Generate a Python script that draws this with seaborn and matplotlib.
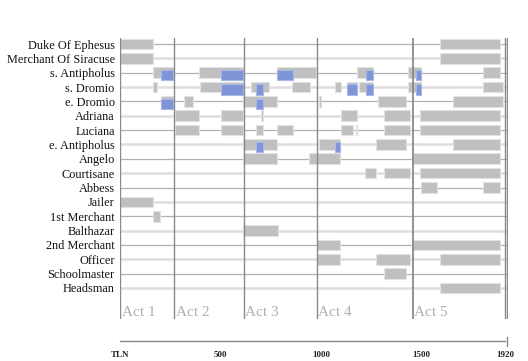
import matplotlib
matplotlib.use("Agg")
import matplotlib.pyplot as plt
from matplotlib.lines import Line2D
import seaborn as sns
import pandas as pd

# ---------------- data ----------------
characters = ["Duke Of Ephesus", "Merchant Of Siracuse", "s. Antipholus", "s. Dromio",
              "e. Dromio", "Adriana", "Luciana", "e. Antipholus", "Angelo", "Courtisane",
              "Abbess", "Jailer", "1st Merchant", "Balthazar", "2nd Merchant", "Officer",
              "Schoolmaster", "Headsman"]

act_labels = ["Act 1", "Act 2", "Act 3", "Act 4", "Act 5"]
act_starts = [0, 270, 615, 980, 1458]
play_end = 1920

tick_values = [0, 500, 1000, 1500, 1920]
tick_labels = ["TLN", "500", "1000", "1500", "1920"]

# on-stage spans (TLN start, end)
stage_duke = [(0, 163), (1595, 1894)]
stage_merchant = [(0, 163), (1595, 1894)]
stage_s_antipholus = [(162, 269), (393, 613), (783, 976), (1179, 1262), (1433, 1500), (1807, 1894)]
stage_s_dromio = [(162, 182), (397, 612), (650, 740), (858, 946), (1071, 1101), (1132, 1182),
                  (1192, 1262), (1433, 1500), (1807, 1909)]
stage_e_dromio = [(203, 261), (318, 361), (613, 783), (991, 1003), (1285, 1423), (1659, 1909)]
stage_adriana = [(273, 393), (502, 612), (702, 710), (1101, 1179), (1317, 1445), (1495, 1894)]
stage_luciana = [(273, 393), (502, 612), (677, 710), (783, 860), (1101, 1159), (1174, 1181),
                 (1317, 1445), (1495, 1894)]
stage_e_antipholus = [(613, 783), (991, 1096), (1275, 1423), (1659, 1894)]
stage_angelo = [(613, 783), (941, 1096), (1458, 1894)]
stage_courtisane = [(1222, 1277), (1317, 1445), (1495, 1894)]
stage_abbess = [(1500, 1578), (1807, 1894)]
stage_jailer = [(0, 163)]
stage_1st_merchant = [(162, 197)]
stage_balthazar = [(613, 785)]
stage_2nd_merchant = [(980, 1096), (1458, 1894)]
stage_officer = [(980, 1096), (1275, 1445), (1595, 1894)]
stage_schoolmaster = [(1317, 1423)]
stage_headsman = [(1595, 1894)]

stage_spans = [stage_duke, stage_merchant, stage_s_antipholus, stage_s_dromio, stage_e_dromio,
               stage_adriana, stage_luciana, stage_e_antipholus, stage_angelo, stage_courtisane,
               stage_abbess, stage_jailer, stage_1st_merchant, stage_balthazar,
               stage_2nd_merchant, stage_officer, stage_schoolmaster, stage_headsman]

# highlighted (blue) spans
blue_s_antipholus = [(203, 261), (502, 613), (783, 860), (1224, 1262), (1473, 1500)]
blue_s_dromio = [(502, 612), (677, 710), (1132, 1182), (1224, 1262), (1473, 1500)]
blue_e_dromio = [(203, 261), (677, 710)]
blue_e_antipholus = [(677, 710), (1071, 1096)]
blue_chars = ["s. Antipholus", "s. Dromio", "e. Dromio", "e. Antipholus"]
blue_spans = [blue_s_antipholus, blue_s_dromio, blue_e_dromio, blue_e_antipholus]

# ---------------- tables ----------------
stage_df = pd.DataFrame([(c, s, e) for c, spans in zip(characters, stage_spans) for s, e in spans],
                        columns=["character", "start", "end"])
blue_df = pd.DataFrame([(c, s, e) for c, spans in zip(blue_chars, blue_spans) for s, e in spans],
                       columns=["character", "start", "end"])
row_of = {c: i for i, c in enumerate(characters)}
stage_df["row"] = stage_df["character"].map(row_of)
blue_df["row"] = blue_df["character"].map(row_of)

# ---------------- figure ----------------
sns.set_style("white")
plt.rcParams["font.family"] = ["Liberation Serif", "DejaVu Serif"]

W, H = 528, 361
fig = plt.figure(figsize=(W / 100, H / 100), dpi=100)

scale = 0.2005  # px per TLN
x0_px = 120.3
xmax = 1935
left = x0_px / W
width = xmax * scale / W
top_px, bot_px = 38, 319
ax = fig.add_axes([left, (H - bot_px) / H, width, (bot_px - top_px) / H])

row0_px, row_step = 44, 14.35
ax.set_xlim(0, xmax)
ax.set_ylim((bot_px - row0_px) / row_step, (top_px - row0_px) / row_step)

# row lines
for i, c in enumerate(characters):
    if i % 2 == 0:
        ax.plot([0, play_end + 8], [i, i], color="#b2b2b2", lw=0.9, zorder=1, solid_capstyle="butt")
    else:
        ax.plot([0, play_end + 8], [i, i], color="#dedede", lw=1.8, zorder=1, solid_capstyle="butt")

# on-stage bars
bh = 0.745
ax.barh(stage_df["row"], stage_df["end"] - stage_df["start"], left=stage_df["start"],
        height=bh, color="#c0c0c0", edgecolor="#e2e2e2", linewidth=0.8, zorder=2)
# highlighted bars
ax.barh(blue_df["row"] + 0.17, blue_df["end"] - blue_df["start"], left=blue_df["start"],
        height=0.7, color="#7f95d8", edgecolor="#a9b8e6", linewidth=0.8, zorder=3)

# act lines and labels
for a, lab in zip(act_starts, act_labels):
    ax.axvline(a, color="#8a8a8a", lw=1.3 if a == 1458 else 1.0, zorder=4)
    ax.text(a + 6, (312.5 - row0_px) / row_step, lab, color="#b0b0b0", fontsize=11,
            ha="left", va="center", zorder=5)
ax.axvline(play_end - 1, color="#8a8a8a", lw=1.0, zorder=4)
ax.axvline(play_end + 7, color="#8a8a8a", lw=1.0, zorder=4)

ax.set_yticks(range(len(characters)))
ax.set_yticklabels(characters, fontsize=8.8, color="#111111")
ax.set_xticks([])
ax.tick_params(axis="y", length=2.5, width=0.8, color="#b2b2b2", pad=1.5)
for s in ax.spines.values():
    s.set_visible(False)
ax.set_facecolor("none")

# bottom TLN axis
ax_px = 341
ax2 = fig.add_axes([left, (H - ax_px) / H, width, 0.0001])
ax2.set_xlim(0, xmax)
ax2.set_facecolor("none")
for k in ["top", "left", "right"]:
    ax2.spines[k].set_visible(False)
ax2.spines["bottom"].set_color("#888888")
ax2.spines["bottom"].set_linewidth(1.0)
ax2.spines["bottom"].set_bounds(0, play_end)
ax2.set_yticks([])
ax2.set_xticks(tick_values)
ax2.set_xticklabels(tick_labels, fontsize=6.5, fontweight="bold", color="#222222")
ax2.set_xticks([v for v in range(100, 1920, 100) if v % 500 != 0], minor=True)
ax2.tick_params(axis="x", which="major", direction="inout", length=6.2, width=1.0,
                color="#888888", pad=4)
ax2.tick_params(axis="x", which="minor", direction="inout", length=3.3, width=0.9,
                color="#888888")
fig.add_artist(Line2D([x0_px / W + (play_end + 7) * scale / W] * 2,
                      [(H - ax_px - 4.5) / H, (H - ax_px + 4.5) / H],
                      color="#888888", lw=1.0))

fig.savefig("out.png", dpi=100)
